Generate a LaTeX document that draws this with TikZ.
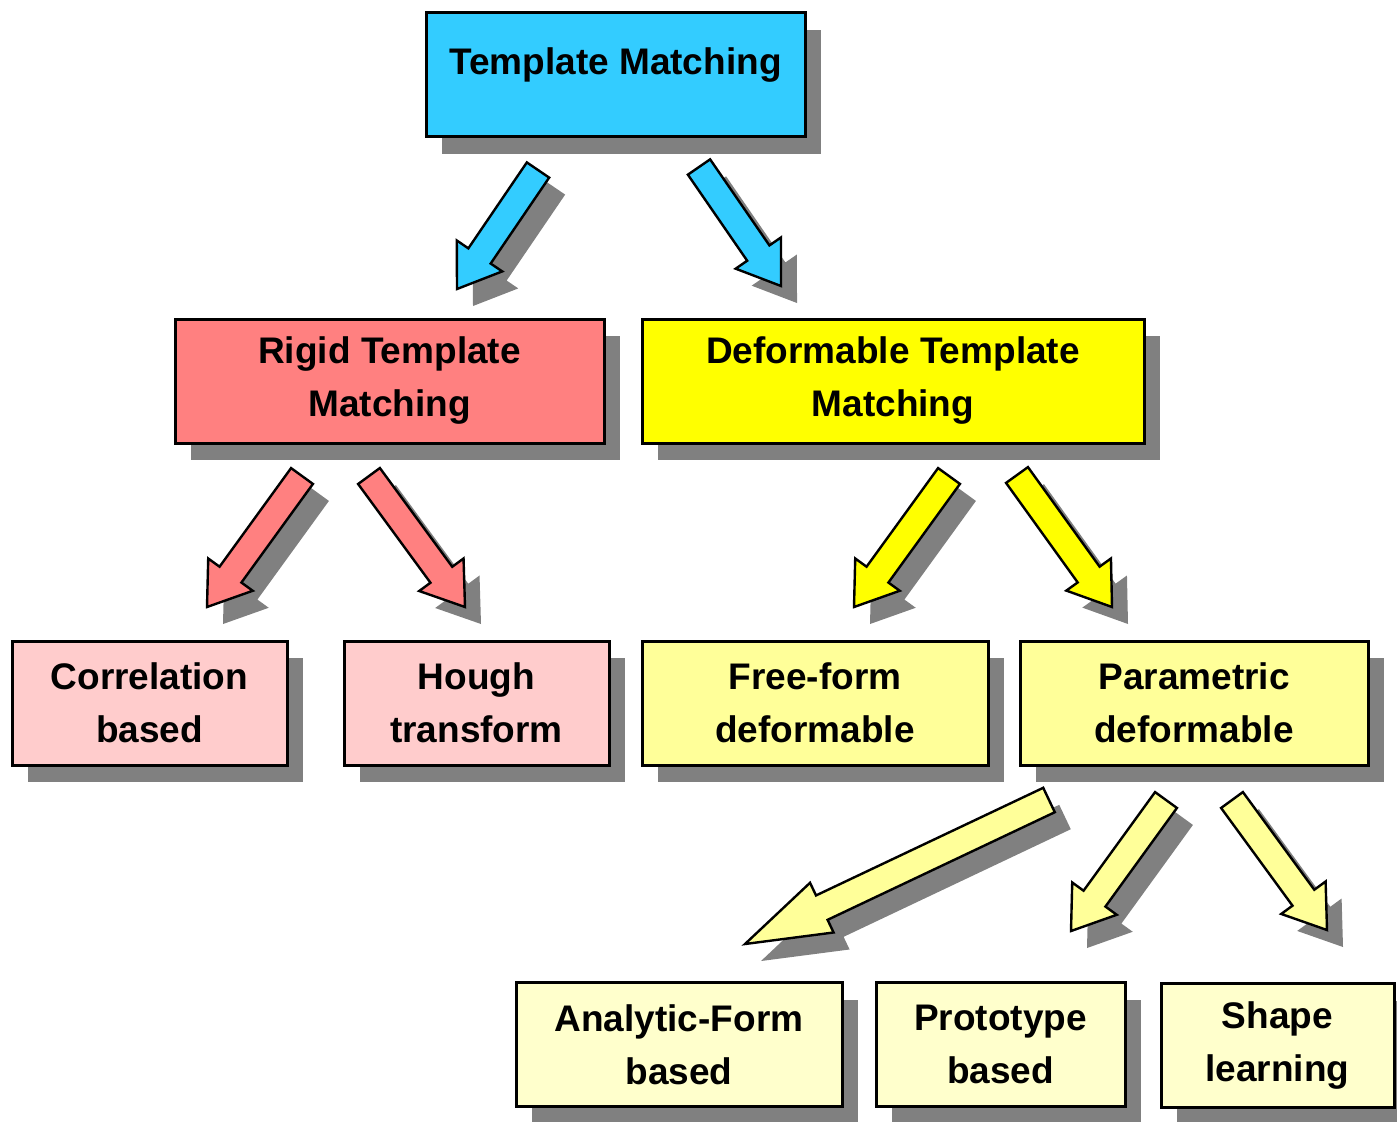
\documentclass[tikz,border=0pt]{standalone}
\usepackage{fontspec}
\setmainfont{Liberation Sans}
\usetikzlibrary{calc,shadows}
\definecolor{skyblue}{HTML}{33CCFF}
\definecolor{salmon}{HTML}{FF8080}
\definecolor{blush}{HTML}{FFCCCC}
\definecolor{lemon}{HTML}{FFFF00}
\definecolor{lemonpale}{HTML}{FFFF99}
\definecolor{cream}{HTML}{FFFFCC}
\definecolor{shade}{HTML}{808080}

\tikzset{
  box/.style={draw=black, line width=1.5pt, fill=#1, align=center, inner sep=0pt,
    minimum height=62pt, font=\bfseries\fontsize{18.5}{26.5}\selectfont,
    drop shadow={shadow xshift=8pt, shadow yshift=-8.5pt, fill=shade, opacity=1}},
  arrowbody/.style={draw=black, line width=1.2pt, fill=#1, line join=miter,
    drop shadow={shadow xshift=8pt, shadow yshift=-8.5pt, fill=shade, opacity=1}},
}

% block arrow: [head length] {colour} {tail} {tip}
\newcommand{\blockarrow}[4][20pt]{%
  \coordinate (hb) at ($(#4)!#1!(#3)$);
  \draw[arrowbody=#2]
    ($(#3)!6.75pt!90:(#4)$) -- ($(hb)!6.75pt!-90:(#3)$) -- ($(hb)!13.75pt!-90:(#3)$)
    -- (#4) -- ($(hb)!13.75pt!90:(#3)$) -- ($(hb)!6.75pt!90:(#3)$)
    -- ($(#3)!6.75pt!-90:(#4)$) -- cycle;}

\begin{document}
\begin{tikzpicture}[x=0.5pt,y=-0.5pt]
  \useasboundingbox (0,0) rectangle (1397,1121);

  % boxes
  \node[box=skyblue, minimum width=189.5pt, text height=13.5pt, text depth=13.5pt]
    (tm) at (615.5,74.5) {Template Matching};
  \node[box=salmon, minimum width=214.5pt] (rigid) at (389.5,381) {Rigid Template\\Matching};
  \node[box=lemon, minimum width=251pt] (deform) at (893,381) {Deformable Template\\Matching};
  \node[box=blush, minimum width=137.5pt] (corr) at (149.5,703) {Correlation\\based};
  \node[box=blush, minimum width=132.5pt] (hough) at (476.5,703) {Hough\\transform};
  \node[box=lemonpale, minimum width=173pt] (free) at (815,703) {Free-form\\deformable};
  \node[box=lemonpale, minimum width=174pt] (param) at (1194,703) {Parametric\\deformable};
  \node[box=cream, minimum width=163pt] (analytic) at (679,1044.5) {Analytic-Form\\based};
  \node[box=cream, minimum width=124.5pt] (proto) at (1000.5,1044.5) {Prototype\\based};
  \node[box=cream, minimum width=116.5pt] (shape) at (1277.5,1045.5) {Shape\\learning};

  % arrow ends
  \coordinate (t1) at (538,170);  \coordinate (h1) at (457,289);
  \coordinate (t2) at (699,167);  \coordinate (h2) at (781,286);
  \coordinate (t3) at (302,476);  \coordinate (h3) at (207,607);
  \coordinate (t4) at (369,476);  \coordinate (h4) at (465,607);
  \coordinate (t5) at (949,476);  \coordinate (h5) at (854,607);
  \coordinate (t6) at (1017,475); \coordinate (h6) at (1112,607);
  \coordinate (t7) at (1049,800); \coordinate (h7) at (745,944);
  \coordinate (t8) at (1166,800); \coordinate (h8) at (1071,931);
  \coordinate (t9) at (1232,800); \coordinate (h9) at (1327,930);

  % arrows
  \blockarrow{skyblue}{t1}{h1}
  \blockarrow{skyblue}{t2}{h2}
  \blockarrow{salmon}{t3}{h3}
  \blockarrow{salmon}{t4}{h4}
  \blockarrow{lemon}{t5}{h5}
  \blockarrow{lemon}{t6}{h6}
  \blockarrow[42.5pt]{lemonpale}{t7}{h7}
  \blockarrow{lemonpale}{t8}{h8}
  \blockarrow{lemonpale}{t9}{h9}
\end{tikzpicture}
\end{document}
